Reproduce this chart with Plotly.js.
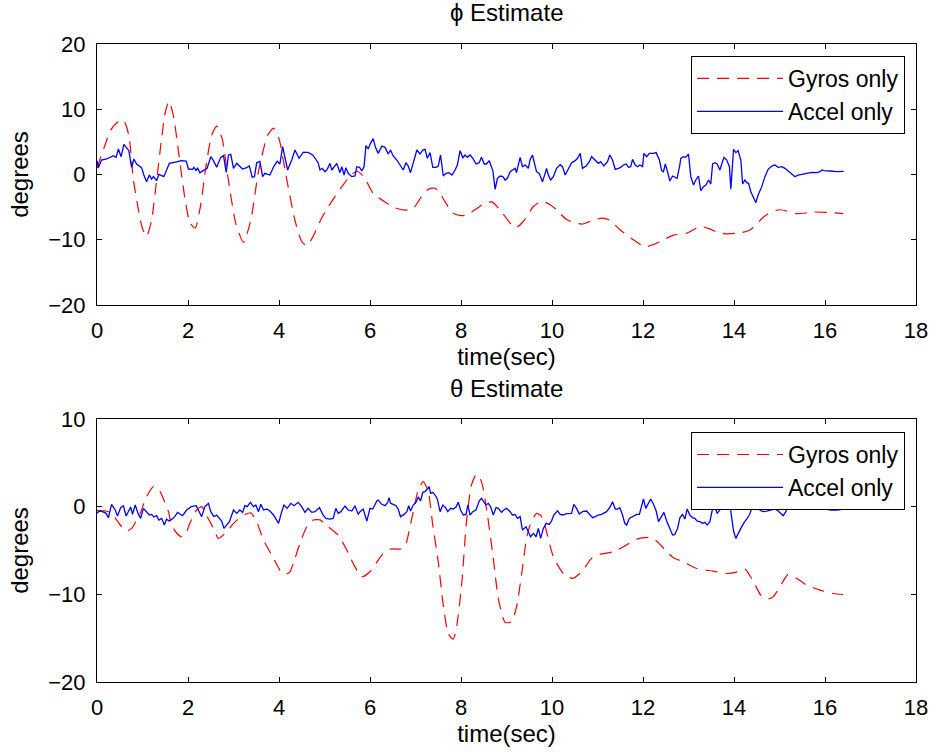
<!DOCTYPE html>
<html>
<head>
<meta charset="utf-8">
<script src="https://cdn.plot.ly/plotly-3.0.1.min.js"></script>
<style>html,body{margin:0;padding:0;background:#fff;}#chart{width:935px;height:752px;}</style>
</head>
<body>
<div id="chart"></div>
<script>
// ---- data: [time (sec), degrees] ----
const phiGyro = [[0.00,1.0],[0.15,4.0],[0.30,6.8],[0.45,8.0],[0.58,8.4],[0.70,6.0],[0.80,-0.8],[0.91,-5.4],[1.00,-8.3],[1.09,-9.5],[1.20,-7.0],[1.30,-1.5],[1.42,5.5],[1.50,9.5],[1.58,11.2],[1.68,9.0],[1.80,3.0],[1.95,-4.5],[2.05,-7.5],[2.16,-8.2],[2.27,-5.0],[2.40,1.5],[2.52,6.0],[2.63,7.4],[2.75,5.5],[2.88,-0.5],[3.05,-7.5],[3.22,-10.4],[3.38,-7.0],[3.55,0.5],[3.75,6.0],[3.88,7.1],[4.00,5.5],[4.15,0.0],[4.35,-7.0],[4.50,-10.3],[4.61,-10.9],[4.75,-9.5],[4.90,-7.2],[5.05,-5.3],[5.20,-3.7],[5.41,-1.6],[5.58,-0.1],[5.72,0.5],[5.88,-0.5],[6.07,-2.9],[6.33,-4.2],[6.55,-5.1],[6.77,-5.45],[6.95,-5.2],[7.17,-3.0],[7.30,-2.2],[7.43,-2.1],[7.55,-3.0],[7.65,-4.2],[7.83,-5.95],[8.00,-6.3],[8.12,-6.2],[8.35,-5.2],[8.50,-4.5],[8.68,-4.2],[8.89,-5.7],[9.11,-7.7],[9.22,-8.1],[9.37,-7.2],[9.59,-4.9],[9.77,-4.1],[9.95,-4.6],[10.10,-5.4],[10.32,-6.9],[10.65,-7.6],[10.91,-7.0],[11.10,-6.7],[11.27,-7.0],[11.50,-8.5],[11.79,-10.0],[12.04,-11.1],[12.20,-10.8],[12.37,-10.3],[12.67,-9.3],[12.96,-9.0],[13.25,-8.0],[13.45,-8.3],[13.62,-8.8],[13.84,-9.1],[14.17,-8.9],[14.35,-8.5],[14.50,-7.6],[14.62,-6.7],[14.75,-6.0],[15.01,-5.4],[15.38,-6.0],[15.75,-5.75],[16.04,-5.8],[16.40,-6.0]];

const phiAccel = [[0.00,2.12],[0.03,1.05],[0.10,2.22],[0.21,2.38],[0.36,2.89],[0.42,2.63],[0.47,3.91],[0.53,2.73],[0.59,4.62],[0.65,4.16],[0.70,3.65],[0.76,1.10],[0.81,2.38],[0.87,1.61],[0.93,1.30],[0.98,1.05],[1.03,-0.08],[1.09,-1.10],[1.15,-0.08],[1.20,-0.69],[1.24,-0.33],[1.31,-0.95],[1.36,0.03],[1.42,-0.23],[1.47,-0.33],[1.59,1.71],[1.68,1.81],[1.75,1.92],[1.85,2.12],[1.96,2.07],[2.01,0.84],[2.10,0.79],[2.13,1.10],[2.18,0.59],[2.21,1.05],[2.26,0.28],[2.34,0.64],[2.42,0.95],[2.50,2.73],[2.56,2.12],[2.63,1.10],[2.72,2.63],[2.78,2.89],[2.84,0.33],[2.89,2.99],[2.94,3.09],[3.00,0.95],[3.07,1.71],[3.13,1.30],[3.20,0.84],[3.29,1.05],[3.35,1.30],[3.41,-0.43],[3.46,-0.33],[3.51,1.81],[3.58,2.02],[3.64,-0.33],[3.69,0.18],[3.80,-0.08],[3.89,1.30],[3.96,2.02],[4.02,1.61],[4.08,4.27],[4.13,2.84],[4.19,0.69],[4.28,2.22],[4.35,3.75],[4.44,2.48],[4.53,3.40],[4.64,3.40],[4.74,2.99],[4.86,1.81],[4.90,0.69],[4.95,0.95],[5.01,0.43],[5.06,0.79],[5.12,1.71],[5.16,0.69],[5.22,1.20],[5.27,1.71],[5.34,0.28],[5.38,1.20],[5.43,-0.08],[5.47,1.05],[5.52,0.18],[5.60,-0.33],[5.67,-0.23],[5.71,1.20],[5.77,1.10],[5.82,0.54],[5.87,1.20],[5.91,4.42],[5.96,3.91],[6.01,4.78],[6.07,5.49],[6.12,4.16],[6.18,3.24],[6.26,4.37],[6.33,4.16],[6.40,3.14],[6.45,3.75],[6.51,2.84],[6.59,2.22],[6.66,1.46],[6.73,0.69],[6.79,1.81],[6.84,1.30],[6.89,0.28],[6.95,1.71],[7.03,3.75],[7.10,3.14],[7.16,3.75],[7.21,3.86],[7.26,2.48],[7.32,3.35],[7.38,1.10],[7.45,1.10],[7.50,1.30],[7.55,2.99],[7.61,-0.23],[7.67,0.18],[7.73,0.28],[7.80,-0.08],[7.87,0.69],[7.92,1.46],[7.98,3.65],[8.04,2.58],[8.09,2.99],[8.14,2.63],[8.20,2.99],[8.26,2.48],[8.33,1.61],[8.40,1.81],[8.45,2.63],[8.51,1.61],[8.56,1.61],[8.62,2.12],[8.70,0.59],[8.75,-2.27],[8.80,-0.59],[8.86,-0.23],[8.92,-0.33],[8.97,-0.84],[9.02,-0.59],[9.08,0.43],[9.14,0.69],[9.19,0.95],[9.22,0.28],[9.30,2.63],[9.35,1.20],[9.41,1.46],[9.48,0.95],[9.52,2.32],[9.57,2.99],[9.63,1.46],[9.66,0.43],[9.72,0.18],[9.79,-1.10],[9.85,0.18],[9.88,0.95],[9.92,-0.08],[9.97,-0.84],[10.03,-0.33],[10.10,0.95],[10.18,1.51],[10.23,1.20],[10.29,-0.08],[10.36,0.95],[10.43,1.81],[10.51,2.12],[10.56,2.48],[10.62,3.24],[10.67,0.95],[10.75,1.30],[10.82,1.97],[10.87,2.73],[10.95,2.22],[11.02,1.71],[11.07,1.97],[11.14,1.30],[11.22,1.97],[11.27,2.99],[11.33,2.22],[11.39,0.79],[11.46,0.95],[11.51,1.10],[11.57,1.46],[11.63,1.61],[11.68,1.10],[11.73,1.20],[11.77,2.32],[11.83,1.46],[11.88,1.20],[11.93,1.46],[11.99,1.20],[12.02,3.24],[12.08,2.73],[12.14,3.24],[12.23,3.24],[12.29,3.35],[12.36,2.22],[12.41,0.59],[12.45,0.43],[12.49,1.61],[12.54,0.43],[12.59,-1.00],[12.65,-0.23],[12.70,-0.43],[12.75,-0.59],[12.81,1.46],[12.83,2.48],[12.89,2.73],[12.94,2.63],[13.00,3.14],[13.05,-0.33],[13.11,-1.61],[13.16,-0.84],[13.22,-0.23],[13.27,-2.48],[13.33,-1.86],[13.38,-1.61],[13.44,-0.84],[13.49,-1.46],[13.53,1.61],[13.58,1.81],[13.63,1.61],[13.69,0.69],[13.73,1.61],[13.78,2.63],[13.84,2.22],[13.90,1.20],[13.93,-2.27],[13.99,3.86],[14.04,3.35],[14.09,3.65],[14.15,2.22],[14.19,-1.46],[14.24,-0.84],[14.28,-1.25],[14.32,-1.35],[14.37,-2.63],[14.42,-3.40],[14.48,-4.32],[14.53,-3.14],[14.61,-1.86],[14.68,-0.33],[14.75,0.79],[14.83,1.30],[14.90,1.46],[14.97,1.10],[15.05,1.20],[15.12,0.95],[15.19,0.54],[15.27,0.18],[15.34,-0.33],[15.41,-0.08],[15.51,0.08],[15.60,0.18],[15.71,0.33],[15.82,0.28],[15.89,0.43],[15.93,0.69],[15.98,0.59],[16.11,0.54],[16.26,0.43],[16.41,0.49]];

const thetaGyro = [[0.00,-0.46],[0.25,-0.57],[0.40,-1.3],[0.54,-2.29],[0.65,-2.8],[0.76,-2.48],[0.95,-0.76],[1.05,0.65],[1.15,1.7],[1.24,2.29],[1.35,2.02],[1.44,1.14],[1.57,-0.57],[1.64,-2.1],[1.75,-3.0],[1.86,-3.43],[1.97,-2.86],[2.04,-1.9],[2.19,-0.38],[2.30,0.0],[2.37,-0.57],[2.46,-1.5],[2.56,-2.48],[2.67,-3.62],[2.85,-2.86],[3.00,-1.9],[3.11,-1.4],[3.25,-0.9],[3.38,-0.7],[3.50,-1.6],[3.66,-3.81],[3.84,-5.52],[4.02,-7.24],[4.13,-7.73],[4.24,-7.43],[4.35,-5.9],[4.46,-4.19],[4.61,-2.29],[4.75,-1.52],[4.90,-1.5],[5.08,-2.29],[5.30,-3.24],[5.49,-4.95],[5.63,-6.48],[5.82,-8.0],[6.00,-7.43],[6.26,-5.52],[6.44,-4.84],[6.66,-4.84],[6.77,-4.57],[6.84,-3.24],[6.95,-0.57],[7.06,1.9],[7.17,2.86],[7.28,1.71],[7.38,-2.1],[7.50,-6.29],[7.61,-11.24],[7.72,-14.48],[7.83,-15.1],[7.91,-13.5],[8.02,-8.57],[8.12,-1.71],[8.23,2.48],[8.34,3.7],[8.45,2.86],[8.57,-0.57],[8.71,-5.9],[8.82,-10.48],[8.97,-13.2],[9.11,-13.14],[9.22,-11.43],[9.33,-7.81],[9.44,-3.62],[9.52,-2.1],[9.66,-0.76],[9.75,-1.0],[9.85,-2.29],[10.03,-5.71],[10.25,-7.62],[10.45,-8.19],[10.65,-7.43],[10.87,-5.9],[11.05,-5.45],[11.35,-5.14],[11.57,-4.57],[11.86,-3.7],[12.15,-3.5],[12.30,-3.92],[12.52,-5.14],[12.67,-5.83],[12.89,-6.29],[13.18,-7.05],[13.54,-7.35],[13.84,-7.62],[14.10,-7.4],[14.24,-7.12],[14.39,-8.19],[14.59,-10.1],[14.72,-10.55],[14.86,-10.29],[15.05,-8.76],[15.19,-7.73],[15.38,-8.19],[15.60,-8.95],[15.89,-9.52],[16.18,-9.9],[16.40,-10.02]];

const thetaAccel = [[0.00,-0.76],[0.05,-0.50],[0.12,-0.57],[0.20,-0.76],[0.25,-1.26],[0.32,0.27],[0.40,-0.38],[0.45,-1.07],[0.52,-0.11],[0.58,0.11],[0.64,-1.07],[0.69,-0.57],[0.74,-0.04],[0.78,-0.88],[0.84,0.19],[0.91,-0.88],[0.96,-1.33],[1.02,-0.19],[1.09,-0.57],[1.15,-0.95],[1.20,-0.88],[1.25,-1.18],[1.31,-1.03],[1.36,-1.52],[1.42,-1.33],[1.48,-2.10],[1.53,-1.41],[1.58,-1.64],[1.64,-1.45],[1.71,-1.14],[1.77,-0.65],[1.82,-0.84],[1.88,-1.03],[1.97,-0.38],[2.07,0.00],[2.18,0.11],[2.23,-0.38],[2.30,-1.14],[2.37,0.00],[2.45,0.38],[2.50,-0.57],[2.57,-1.14],[2.63,-0.95],[2.69,-1.33],[2.74,-1.64],[2.79,-2.48],[2.85,-2.10],[2.91,-1.71],[3.00,-0.38],[3.07,-0.76],[3.14,-0.38],[3.20,-0.65],[3.25,0.11],[3.30,0.00],[3.37,0.50],[3.44,0.00],[3.49,0.19],[3.55,-0.57],[3.60,0.27],[3.66,-0.38],[3.73,-0.27],[3.80,-0.50],[3.88,-0.95],[3.93,-1.33],[3.99,-1.90],[4.06,-0.57],[4.11,0.19],[4.18,-0.19],[4.26,0.38],[4.33,0.11],[4.42,0.50],[4.50,0.00],[4.57,-0.65],[4.64,-0.19],[4.72,-0.65],[4.79,-0.57],[4.89,-0.11],[4.96,-0.88],[5.03,-1.33],[5.12,-1.41],[5.19,-1.33],[5.25,-0.19],[5.30,-0.76],[5.36,-0.57],[5.45,0.08],[5.52,-0.38],[5.60,-0.50],[5.67,0.11],[5.74,-0.88],[5.78,-0.57],[5.85,-0.27],[5.93,-1.64],[6.00,-0.19],[6.06,-0.27],[6.15,0.65],[6.18,0.76],[6.26,0.27],[6.33,0.11],[6.39,0.50],[6.42,1.03],[6.45,0.38],[6.51,0.27],[6.57,0.11],[6.62,-0.27],[6.67,-1.14],[6.75,-0.88],[6.81,-0.57],[6.85,0.11],[6.89,-0.50],[6.95,0.19],[7.01,0.50],[7.06,1.14],[7.11,0.65],[7.16,1.64],[7.21,1.71],[7.24,1.90],[7.30,2.29],[7.33,1.52],[7.38,1.64],[7.43,1.33],[7.48,0.88],[7.54,-0.57],[7.60,0.19],[7.66,-0.11],[7.71,-0.57],[7.77,-0.19],[7.83,-0.27],[7.89,-0.04],[7.94,0.50],[7.99,-0.38],[8.05,-0.95],[8.11,-0.88],[8.15,0.19],[8.20,-0.95],[8.26,-0.57],[8.33,-0.38],[8.40,0.65],[8.45,0.95],[8.51,0.50],[8.55,0.19],[8.60,0.38],[8.65,0.00],[8.71,-0.95],[8.77,-0.11],[8.82,-0.19],[8.89,-0.65],[8.94,-0.38],[9.00,-0.19],[9.08,-0.57],[9.13,-0.95],[9.19,-0.88],[9.24,-1.33],[9.30,-1.14],[9.35,-2.67],[9.43,-2.29],[9.48,-2.78],[9.53,-3.43],[9.59,-3.05],[9.65,-3.43],[9.70,-2.48],[9.75,-3.62],[9.81,-2.48],[9.87,-1.90],[9.94,-2.02],[9.99,-1.64],[10.04,-0.95],[10.12,-0.46],[10.18,-0.88],[10.24,-0.95],[10.32,-0.80],[10.43,-0.76],[10.48,0.27],[10.54,-0.19],[10.60,-0.84],[10.67,-0.57],[10.76,-0.50],[10.84,-0.95],[10.89,-1.26],[10.95,-1.14],[11.02,-0.95],[11.09,-0.88],[11.20,-0.57],[11.28,0.00],[11.33,0.57],[11.39,-0.27],[11.44,-0.27],[11.49,-0.11],[11.55,-0.95],[11.60,-1.90],[11.64,-2.10],[11.70,-1.33],[11.77,-1.14],[11.86,-0.88],[11.92,-0.88],[11.97,0.11],[12.01,0.88],[12.06,-0.19],[12.12,0.38],[12.17,0.88],[12.23,0.27],[12.29,-0.50],[12.34,-1.71],[12.39,-1.33],[12.46,-0.65],[12.52,-1.64],[12.59,-2.55],[12.65,-3.24],[12.70,-3.16],[12.76,-2.48],[12.81,-1.26],[12.87,-0.88],[12.92,-1.41],[12.97,-0.27],[13.03,-0.95],[13.09,-1.26],[13.14,-1.33],[13.19,-1.64],[13.25,-1.71],[13.31,-1.90],[13.36,-1.79],[13.41,-2.10],[13.47,-1.71],[13.53,-0.19],[13.58,-0.11],[13.63,-0.76],[13.69,-0.38],[13.75,0.50],[13.80,0.19],[13.85,0.57],[13.91,0.27],[13.96,-1.71],[13.99,-2.78],[14.04,-3.62],[14.09,-3.05],[14.15,-2.48],[14.21,-1.90],[14.28,-1.33],[14.34,-0.95],[14.39,-0.19],[14.46,0.00],[14.53,-0.27],[14.63,-0.57],[14.72,-0.50],[14.79,-0.38],[14.88,-0.27],[14.95,-0.38],[15.03,-0.76],[15.08,-1.03],[15.14,-0.57],[15.19,0.19],[15.27,0.65],[15.34,0.50],[15.41,0.19],[15.52,0.11],[15.67,0.11],[15.81,0.19],[15.96,0.19],[16.04,-0.27],[16.11,-0.38],[16.26,-0.38],[16.41,-0.27]];

const seriesNames = ['Gyros only', 'Accel only'];
const panelTitles = ['\u03D5 Estimate', '\u03B8 Estimate'];
const xTitle = 'time(sec)';
const yTitle = 'degrees';
const xTicks = [0, 2, 4, 6, 8, 10, 12, 14, 16, 18];
const yTicksTop = [-20, -10, 0, 10, 20];
const yTicksBottom = [-20, -10, 0, 10];

// ---- build ----
const FONT = '"Liberation Sans", Arial, Helvetica, sans-serif';
const xs = a => a.map(p => p[0]);
const ys = a => a.map(p => p[1]);
const gyroLine = {color: '#ff0000', width: 1.2, dash: '12px,8px', shape: 'spline', smoothing: 0.6};
const accelLine = {color: '#0000ff', width: 1.3};

const traces = [
  {x: xs(phiGyro), y: ys(phiGyro), name: seriesNames[0], mode: 'lines', line: gyroLine, xaxis: 'x', yaxis: 'y', legend: 'legend'},
  {x: xs(phiAccel), y: ys(phiAccel), name: seriesNames[1], mode: 'lines', line: accelLine, xaxis: 'x', yaxis: 'y', legend: 'legend'},
  {x: xs(thetaGyro), y: ys(thetaGyro), name: seriesNames[0], mode: 'lines', line: gyroLine, xaxis: 'x2', yaxis: 'y2', legend: 'legend2'},
  {x: xs(thetaAccel), y: ys(thetaAccel), name: seriesNames[1], mode: 'lines', line: accelLine, xaxis: 'x2', yaxis: 'y2', legend: 'legend2'}
];

const axisCommon = {
  showline: true, linecolor: '#000', linewidth: 1, mirror: 'ticks',
  ticks: 'inside', ticklen: 5, tickwidth: 1, tickcolor: '#000',
  showgrid: false, zeroline: false, automargin: false,
  tickfont: {family: FONT, size: 22, color: '#000'}
};
const xAxis = (anchor) => Object.assign({}, axisCommon, {
  range: [0, 18], tickmode: 'array', tickvals: xTicks, ticktext: xTicks.map(String), anchor: anchor,
  ticklabelstandoff: 6,
  title: {text: xTitle, font: {family: FONT, size: 24, color: '#000'}, standoff: 3}
});
const yAxis = (anchor, domain, range, ticks) => Object.assign({}, axisCommon, {
  domain: domain, range: range, tickmode: 'array', tickvals: ticks,
  ticktext: ticks.map(v => v < 0 ? '\u2212' + Math.abs(v) : String(v)), anchor: anchor,
  ticklabelstandoff: 6,
  title: {text: yTitle, font: {family: FONT, size: 24, color: '#000'}, standoff: 12}
});

const legendCommon = {
  bgcolor: '#fff', bordercolor: '#000', borderwidth: 1,
  font: {family: FONT, size: 23, color: '#000'},
  xanchor: 'right', yanchor: 'top', x: 0.9866, itemwidth: 86,
  entrywidth: 222, entrywidthmode: 'pixels',
  tracegroupgap: 0, itemclick: false
};

const layout = {
  width: 935, height: 752,
  margin: {l: 97, r: 19, t: 44, b: 70},
  paper_bgcolor: '#fff', plot_bgcolor: '#fff',
  showlegend: true,
  xaxis: xAxis('y'),
  yaxis: yAxis('x', [0.5909, 1], [-20, 20], yTicksTop),
  xaxis2: xAxis('y2'),
  yaxis2: yAxis('x2', [0, 0.4122], [-20, 10], yTicksBottom),
  legend: Object.assign({}, legendCommon, {y: 0.9812}),
  legend2: Object.assign({}, legendCommon, {y: 0.3918}),
  annotations: [
    {text: panelTitles[0], xref: 'paper', yref: 'paper', x: 0.5, y: 1.0486, xanchor: 'center', yanchor: 'middle', showarrow: false, font: {family: FONT, size: 24, color: '#000'}},
    {text: panelTitles[1], xref: 'paper', yref: 'paper', x: 0.5, y: 0.4608, xanchor: 'center', yanchor: 'middle', showarrow: false, font: {family: FONT, size: 24, color: '#000'}}
  ]
};

Plotly.newPlot('chart', traces, layout, {staticPlot: true, displayModeBar: false});
</script>
</body>
</html>
